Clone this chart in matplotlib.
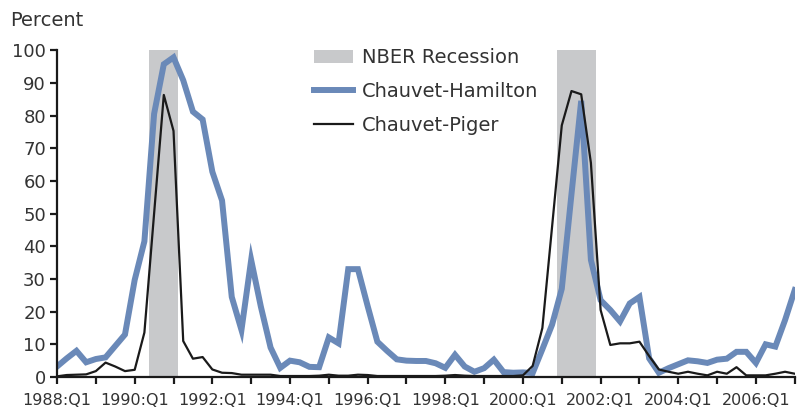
import numpy as np
import matplotlib
matplotlib.use("Agg")
import matplotlib.pyplot as plt
from matplotlib.patches import Patch
from matplotlib.lines import Line2D

# --- data: recession probabilities, quarterly 1988:Q1 - 2007:Q1 ---
chauvet_hamilton = [
    3.2, 5.7, 8.0, 4.5, 5.5, 6.0, 9.5, 13.0,        # 1988-1989
    29.7, 41.5, 80.5, 95.7, 97.8, 90.8, 81.2, 78.8,  # 1990-1991
    62.8, 54.0, 24.5, 14.4, 35.8, 21.5, 9.0, 2.8,    # 1992-1993
    5.0, 4.5, 3.1, 3.0, 12.1, 10.3, 33.0, 33.0,      # 1994-1995
    21.7, 10.8, 8.0, 5.4, 5.0, 4.9, 4.9, 4.2,        # 1996-1997
    2.8, 6.8, 3.2, 1.6, 2.7, 5.3, 1.5, 1.3,          # 1998-1999
    1.4, 1.2, 8.5, 16.0, 27.0, 56.0, 84.5, 35.8,     # 2000-2001
    23.5, 20.5, 17.0, 22.5, 24.5, 5.7, 1.3, 2.7,     # 2002-2003
    3.9, 5.1, 4.8, 4.3, 5.3, 5.6, 7.7, 7.7,          # 2004-2005
    4.3, 10.0, 9.3, 17.4, 26.6,                      # 2006-2007:Q1
]
chauvet_piger = [
    0.2, 0.6, 0.7, 0.8, 1.8, 4.4, 3.2, 1.8,
    2.2, 13.6, 50.0, 86.3, 75.3, 11.0, 5.6, 6.1,
    2.3, 1.3, 1.2, 0.7, 0.7, 0.7, 0.7, 0.3,
    0.3, 0.3, 0.3, 0.4, 0.7, 0.4, 0.4, 0.7,
    0.6, 0.3, 0.3, 0.3, 0.3, 0.3, 0.3, 0.3,
    0.4, 0.6, 0.4, 0.3, 0.3, 0.3, 0.3, 0.3,
    0.5, 3.4, 15.0, 46.0, 77.0, 87.5, 86.5, 65.5,
    20.5, 9.8, 10.3, 10.3, 10.8, 6.4, 2.3, 1.6,
    1.0, 1.6, 1.0, 0.5, 1.6, 1.0, 3.0, 0.5,
    0.5, 0.5, 1.0, 1.6, 1.0,
]
# NBER recessions as (first quarter index, last quarter index)
recessions = [(10, 12), (52, 55)]   # 1990:Q3-1991:Q1, 2001:Q1-2001:Q4
first_year = 1988
last_year = 2007

blue = "#6a89b8"
shade = "#c8c9cb"
text_col = "#333333"

plt.rcParams["font.family"] = ["DejaVu Sans"]

fig = plt.figure(figsize=(8.01, 4.08), dpi=100)
ax = fig.add_axes([0.0712, 0.076, 0.921, 0.801])

q = np.arange(len(chauvet_hamilton))
for a, b in recessions:
    ax.axvspan(a - 0.5, b + 0.5, color=shade, lw=0, zorder=1)
ax.plot(q, chauvet_hamilton, color=blue, lw=4.3, solid_joinstyle="miter", zorder=3)
ax.plot(q, chauvet_piger, color="#1a1a1a", lw=1.6, zorder=4)

ax.set_xlim(0, len(q) - 1)
ax.set_ylim(0, 100)
ax.set_yticks(range(0, 101, 10))
ax.set_xticks(range(0, len(q), 4))
ax.set_xticklabels([f"{y}:Q1" if (y - first_year) % 2 == 0 else ""
                    for y in range(first_year, last_year + 1)])

for s in ["top", "right"]:
    ax.spines[s].set_visible(False)
for s in ["left", "bottom"]:
    ax.spines[s].set_linewidth(1.6)
    ax.spines[s].set_color("#1a1a1a")
    ax.spines[s].set_zorder(5)
ax.tick_params(axis="both", direction="out", length=5, width=1.6, color="#1a1a1a",
               labelcolor=text_col)
ax.tick_params(axis="y", labelsize=13, pad=3)
ax.tick_params(axis="x", labelsize=11.5, pad=6.5)

fig.text(0.013, 0.972, "Percent", fontsize=14, color=text_col, va="top", ha="left")

handles = [
    Patch(facecolor=shade, edgecolor="none", label="NBER Recession"),
    Line2D([], [], color=blue, lw=4.3, label="Chauvet-Hamilton"),
    Line2D([], [], color="#1a1a1a", lw=1.6, label="Chauvet-Piger"),
]
leg = ax.legend(handles=handles, loc="upper left", bbox_to_anchor=(0.38, 0.905),
                bbox_transform=fig.transFigure, frameon=False, fontsize=14,
                handlelength=2.0, handletextpad=0.45, labelspacing=0.75, borderpad=0)
for t in leg.get_texts():
    t.set_color(text_col)

fig.savefig("out.png", dpi=100)
